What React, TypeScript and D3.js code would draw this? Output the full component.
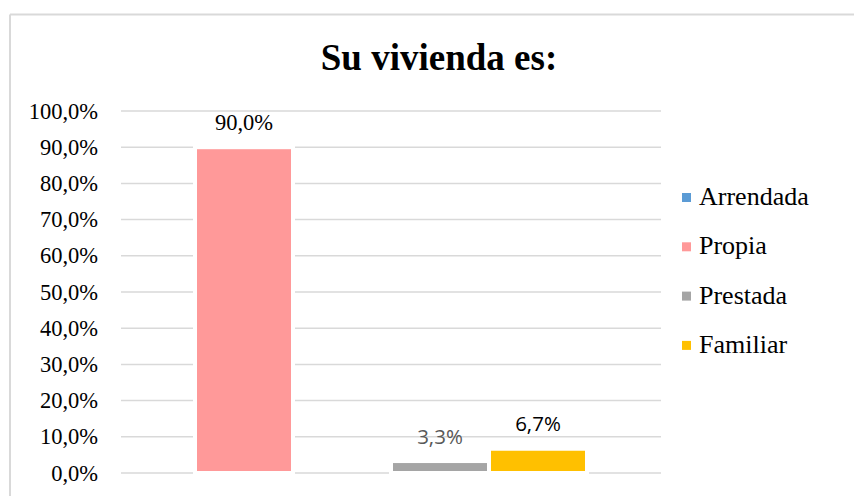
import React from "react";
import * as d3 from "d3";

const categories = [""];
const plotSeries = ["Propia", "Arrendada", "Prestada", "Familiar"];
const legendSeries = ["Arrendada", "Propia", "Prestada", "Familiar"];
const values: Record<string, number> = { Arrendada: 0, Propia: 0.9, Prestada: 0.033, Familiar: 0.067 };
const colors: Record<string, string> = {
  Arrendada: "#5B9BD5",
  Propia: "#FF9999",
  Prestada: "#A5A5A5",
  Familiar: "#FFC000",
};
const labelStyle: Record<string, { font: string; color: string; size: number }> = {
  Propia: { font: "'Liberation Serif', 'Times New Roman', serif", color: "#000000", size: 22.5 },
  Prestada: { font: "'Open Sans', sans-serif", color: "#595959", size: 20.5 },
  Familiar: { font: "'Open Sans', sans-serif", color: "#000000", size: 20.5 },
};
const yTicks = [0, 0.1, 0.2, 0.3, 0.4, 0.5, 0.6, 0.7, 0.8, 0.9, 1.0];
const title = "Su vivienda es:";

const fmt = (v: number) => (v * 100).toFixed(1).replace(".", ",") + "%";

export default function App() {
  const W = 854, H = 496;
  const left = 121, right = 661, top = 111, bottom = 473;
  const y = d3.scaleLinear().domain([0, 1]).range([bottom, top]);
  const x0 = d3.scaleBand<string>().domain(categories).range([left, right]).paddingInner(0).paddingOuter(0.1888);
  const x1 = d3.scaleBand<string>().domain(plotSeries).range([0, x0.bandwidth()]).padding(0);
  const serif = "'Liberation Serif', 'Times New Roman', serif";
  return (
    <svg width={W} height={H} style={{ position: "absolute", left: 0, top: 0, background: "#fff" }}>
      <rect x={0} y={0} width={W} height={H} fill="#fff" />
      {/* chart frame */}
      <line x1={10} y1={14.5} x2={W} y2={14.5} stroke="#d9d9d9" strokeWidth={2} />
      <line x1={10} y1={14.5} x2={10} y2={H} stroke="#d9d9d9" strokeWidth={2} />
      <text x={439} y={70} textAnchor="middle" fontFamily={serif} fontWeight="bold" fontSize={37} fill="#000">
        {title}
      </text>
      {yTicks.map((t) => (
        <g key={t}>
          <line x1={left} x2={right} y1={y(t)} y2={y(t)} stroke="#d9d9d9" strokeWidth={1.5} />
          <text x={98} y={y(t)} dy="0.34em" textAnchor="end" fontFamily={serif} fontSize={22.5} fill="#000">
            {fmt(t)}
          </text>
        </g>
      ))}
      {categories.map((c) =>
        plotSeries.map((s) => {
          const v = values[s];
          if (v <= 0) return null;
          const bx = (x0(c) ?? 0) + (x1(s) ?? 0);
          return (
            <rect
              key={s}
              x={bx}
              y={y(v)}
              width={x1.bandwidth()}
              height={y(0) - y(v)}
              fill={colors[s]}
              stroke="#fff"
              strokeWidth={4}
            />
          );
        })
      )}
      {categories.map((c) =>
        plotSeries.map((s) => {
          const v = values[s];
          const st = labelStyle[s];
          if (!st) return null;
          const cx = (x0(c) ?? 0) + (x1(s) ?? 0) + x1.bandwidth() / 2;
          return (
            <text key={"l" + s} x={cx} y={y(v) - 17.5} textAnchor="middle" fontFamily={st.font} fontSize={st.size} fill={st.color}>
              {fmt(v)}
            </text>
          );
        })
      )}
      {legendSeries.map((s, i) => {
        const by = 205 + i * 49.3;
        return (
          <g key={"lg" + s}>
            <rect x={682} y={by - 12} width={9} height={9} fill={colors[s]} />
            <text x={699} y={by} fontFamily={serif} fontSize={26} fill="#000">
              {s}
            </text>
          </g>
        );
      })}
    </svg>
  );
}
